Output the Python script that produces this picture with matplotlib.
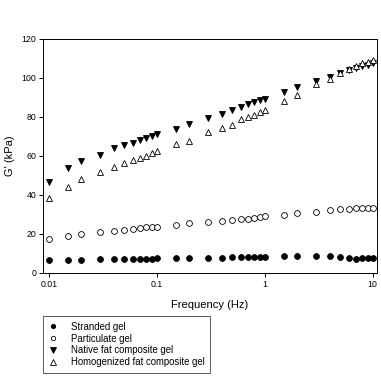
import matplotlib
matplotlib.use("Agg")
import matplotlib.pyplot as plt
from matplotlib.ticker import FixedLocator, NullLocator

plt.rcParams['font.family'] = ['Liberation Sans', 'DejaVu Sans']

# frequency sweep (Hz)
freq = [0.01, 0.015, 0.02, 0.03, 0.04, 0.05, 0.06, 0.07, 0.08, 0.09, 0.1,
        0.15, 0.2, 0.3, 0.4, 0.5, 0.6, 0.7, 0.8, 0.9, 1,
        1.5, 2, 3, 4, 5, 6, 7, 8, 9, 10]

# G' in kPa
stranded = [6.5, 6.5, 6.6, 6.8, 6.9, 7.0, 7.1, 7.1, 7.2, 7.2, 7.3,
            7.4, 7.5, 7.7, 7.8, 7.9, 8.0, 8.0, 8.1, 8.1, 8.2,
            8.4, 8.5, 8.7, 8.6, 8.3, 7.5, 6.9, 7.4, 7.5, 7.5]
particulate = [17.3, 19.0, 20.0, 21.0, 21.6, 22.1, 22.4, 23.0, 23.3, 23.5, 23.6,
               24.5, 25.3, 26.0, 26.5, 27.0, 27.4, 27.8, 28.3, 28.6, 29.0,
               29.8, 30.5, 31.2, 32.0, 32.5, 32.7, 33.0, 33.2, 33.2, 33.2]
native = [46.7, 53.6, 57.2, 60.6, 63.9, 65.4, 66.8, 68.2, 69.3, 70.4, 71.1,
          73.8, 76.3, 79.4, 81.5, 83.6, 85.3, 86.5, 87.5, 88.5, 89.4,
          92.8, 95.5, 98.4, 100.6, 102.7, 104.1, 105.2, 106.0, 106.7, 107.5]
homogenized = [38.2, 44.2, 48.0, 51.9, 54.4, 56.2, 57.9, 59.1, 60.1, 61.3, 62.5,
               66.1, 67.8, 72.1, 74.1, 76.0, 78.8, 80.1, 81.2, 82.4, 83.6,
               88.2, 91.3, 96.8, 99.5, 102.4, 104.4, 106.1, 107.5, 108.2, 109.2]

labels = ['Stranded gel', 'Particulate gel', 'Native fat composite gel',
          'Homogenized fat composite gel']
xticks = [0.01, 0.1, 1, 10]
xticklabels = ['0.01', '0.1', '1', '10']

fig = plt.figure(figsize=(3.81, 3.76), dpi=100)
ax = fig.add_axes([0.1137, 0.2747, 0.875, 0.6216])

ax.plot(freq, stranded, 'o', ms=4.2, mfc='black', mec='black', mew=0.6, label=labels[0])
ax.plot(freq, particulate, 'o', ms=4.2, mfc='white', mec='black', mew=0.6, label=labels[1])
ax.plot(freq, native, 'v', ms=5, mfc='black', mec='black', mew=0.6, label=labels[2])
ax.plot(freq, homogenized, '^', ms=5, mfc='white', mec='black', mew=0.6, label=labels[3])

ax.set_xscale('log')
ax.set_xlim(0.0089, 10.9)
ax.set_ylim(0, 120)
ax.xaxis.set_major_locator(FixedLocator(xticks))
ax.set_xticklabels(xticklabels)
ax.xaxis.set_minor_locator(NullLocator())
ax.set_yticks([0, 20, 40, 60, 80, 100, 120])
ax.tick_params(labelsize=6.3, length=3, width=0.7, pad=2)
for s in ax.spines.values():
    s.set_linewidth(0.7)

ax.set_xlabel('Frequency (Hz)', fontsize=8, labelpad=8)
ax.set_ylabel("G' (kPa)", fontsize=8, labelpad=5)

leg = fig.legend(loc='lower left', bbox_to_anchor=(0.113, 0.009), fontsize=6.9,
                 frameon=True, fancybox=False, edgecolor='#333333',
                 handlelength=1.0, handletextpad=1.4, borderpad=0.55,
                 labelspacing=0.2, borderaxespad=0, markerscale=0.75)
leg.get_frame().set_linewidth(0.7)

fig.savefig('out.png', dpi=100)
